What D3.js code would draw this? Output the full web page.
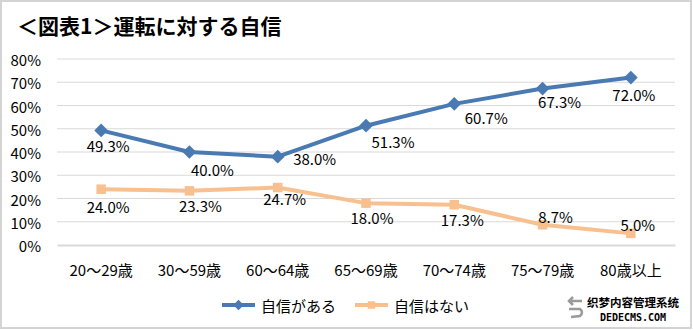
<!DOCTYPE html>
<html>
<head>
<meta charset="utf-8">
<script src="https://cdn.jsdelivr.net/npm/d3@7"></script>
<style>
  html, body { margin: 0; padding: 0; background: #fff; }
  svg { display: block; }
  text { font-family: "Noto Sans CJK JP", "Noto Sans", sans-serif; fill: #000; }
</style>
</head>
<body>
<svg id="chart" width="693" height="330"></svg>
<script>
// Age groups and share of drivers (%) per answer
const categories = ["20～29歳", "30～59歳", "60～64歳", "65～69歳", "70～74歳", "75～79歳", "80歳以上"];
const confident = [49.3, 40.0, 38.0, 51.3, 60.7, 67.3, 72.0];
const notConfident = [24.0, 23.3, 24.7, 18.0, 17.3, 8.7, 5.0];
const seriesNames = ["自信がある", "自信はない"];
const yTicks = [0, 10, 20, 30, 40, 50, 60, 70, 80];
const title = "＜図表1＞運転に対する自信";

// Label placement relative to each marker (px)
const confidentLabelShift = [[7, 15], [23, 17], [37, 2], [27, 16], [32, 14], [17, 13], [3, 17]];
const notConfidentLabelShift = [[7, 17], [11, 15], [7, 11], [6, 14], [8, 15], [13, -8], [7, -9]];

const svg = d3.select("#chart");
const W = 693, H = 330;

// chart frame
svg.append("rect")
  .attr("x", 1).attr("y", 1).attr("width", W - 3).attr("height", H - 3)
  .attr("fill", "#fff").attr("stroke", "#d4d4d4").attr("stroke-width", 2);

svg.append("text")
  .attr("x", 17).attr("y", 25)
  .attr("dominant-baseline", "central")
  .style("font-size", "21px").style("font-weight", "bold")
  .text(title);

const x = d3.scaleBand().domain(categories).range([57, 675]);
const y = d3.scaleLinear().domain([0, 80]).range([245, 59]);
const cx = c => x(c) + x.bandwidth() / 2;

// gridlines
svg.append("g").selectAll("line")
  .data(yTicks.filter(t => t > 0))
  .join("line")
  .attr("x1", 57).attr("x2", 675)
  .attr("y1", d => y(d)).attr("y2", d => y(d))
  .attr("stroke", "#d9d9d9").attr("stroke-width", 1);

// y axis labels
const yAxis = d3.axisLeft(y).tickValues(yTicks).tickSize(0).tickPadding(0)
  .tickFormat(d => d + "%");
svg.append("g")
  .attr("transform", "translate(41,0)")
  .call(yAxis)
  .call(g => g.select(".domain").remove())
  .call(g => g.selectAll("text")
    .attr("dy", null).attr("dominant-baseline", "central")
    .style("font-size", "15px").style("font-family", "'Noto Sans CJK JP', sans-serif")
    .attr("fill", "#000"));

// x axis baseline and labels
const xAxis = d3.axisBottom(x).tickSize(0).tickPadding(0);
svg.append("g")
  .attr("transform", "translate(0,245)")
  .call(xAxis)
  .call(g => g.select(".domain").attr("stroke", "#d9d9d9").attr("stroke-width", 2))
  .call(g => g.selectAll("text")
    .attr("y", 24).attr("dy", null).attr("dominant-baseline", "central")
    .style("font-size", "15px").style("font-family", "'Noto Sans CJK JP', sans-serif")
    .attr("fill", "#000"));

const blue = "#4a7ab2";
const orange = "#f8c08f";

const line = d3.line().x((d, i) => cx(categories[i])).y(d => y(d));

function drawSeries(values, color, marker, shifts) {
  svg.append("path")
    .datum(values)
    .attr("d", line)
    .attr("fill", "none")
    .attr("stroke", color)
    .attr("stroke-width", 4)
    .attr("stroke-linejoin", "round");

  const sym = marker === "diamond"
    ? d3.symbol().type(d3.symbolDiamond2).size(120)
    : d3.symbol().type(d3.symbolSquare2).size(115);
  svg.append("g").selectAll("path")
    .data(values)
    .join("path")
    .attr("transform", (d, i) => `translate(${cx(categories[i])},${y(d)})`)
    .attr("d", sym)
    .attr("fill", color);

  svg.append("g").selectAll("text")
    .data(values)
    .join("text")
    .attr("x", (d, i) => cx(categories[i]) + shifts[i][0])
    .attr("y", (d, i) => y(d) + shifts[i][1])
    .attr("text-anchor", "middle")
    .attr("dominant-baseline", "central")
    .style("font-size", "15px")
    .text(d => d.toFixed(1) + "%");
}

drawSeries(notConfident, orange, "square", notConfidentLabelShift);
drawSeries(confident, blue, "diamond", confidentLabelShift);

// legend
const legend = [
  { name: seriesNames[0], color: blue, marker: d3.symbolDiamond2, x: 222 },
  { name: seriesNames[1], color: orange, marker: d3.symbolSquare2, x: 355 }
];
const lg = svg.append("g").attr("transform", "translate(0,305)");
legend.forEach(item => {
  lg.append("line")
    .attr("x1", item.x).attr("x2", item.x + 33)
    .attr("stroke", item.color).attr("stroke-width", 4);
  lg.append("path")
    .attr("transform", `translate(${item.x + 16.5},0)`)
    .attr("d", d3.symbol().type(item.marker).size(70)())
    .attr("fill", item.color);
  lg.append("text")
    .attr("x", item.x + 39).attr("dominant-baseline", "central")
    .style("font-size", "15px")
    .attr("fill", "#222")
    .text(item.name);
});

// site mark in the lower right corner
const mark = svg.append("g");
mark.append("path")
  .attr("d", "M582,301 L570,301 M573,297 L569,301 L573,305 M569,309 L580,309 Q584,312 580,316 L571,317")
  .attr("fill", "none").attr("stroke", "#9a9a9a").attr("stroke-width", 2.5);
mark.append("text")
  .attr("x", 633).attr("y", 302).attr("text-anchor", "middle").attr("dominant-baseline", "central")
  .style("font-size", "11.5px").style("font-weight", "bold")
  .attr("stroke", "#fff").attr("stroke-width", 2.5).attr("paint-order", "stroke")
  .text("织梦内容管理系统");
mark.append("text")
  .attr("x", 633).attr("y", 317).attr("text-anchor", "middle").attr("dominant-baseline", "central")
  .style("font-size", "10px").style("font-weight", "bold").style("font-family", "'DejaVu Sans Mono', monospace")
  .attr("stroke", "#fff").attr("stroke-width", 2.5).attr("paint-order", "stroke")
  .text("DEDECMS.COM");
</script>
</body>
</html>
